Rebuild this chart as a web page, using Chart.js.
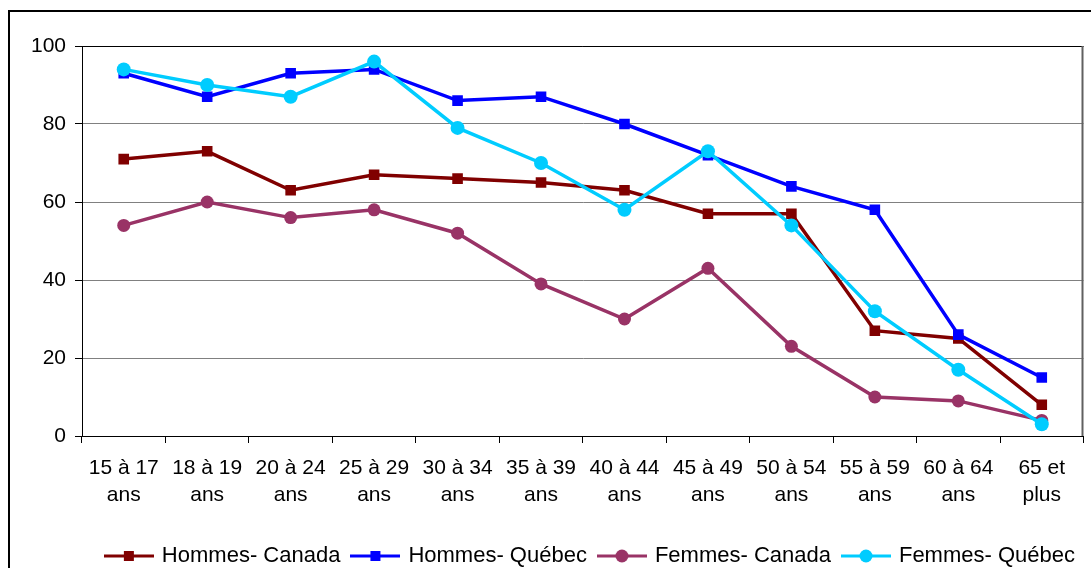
<!DOCTYPE html>
<html lang="fr">
<head>
<meta charset="utf-8">
<script src="https://cdn.jsdelivr.net/npm/chart.js@4/dist/chart.umd.min.js"></script>
<style>
  html, body { margin: 0; padding: 0; background: #ffffff; }
  #wrap { width: 1091px; height: 568px; position: relative; }
</style>
</head>
<body>
<div id="wrap"><canvas id="chart" width="1091" height="568"></canvas></div>
<script>
// values
const ageGroups = [
  ["15 à 17", "ans"], ["18 à 19", "ans"], ["20 à 24", "ans"], ["25 à 29", "ans"],
  ["30 à 34", "ans"], ["35 à 39", "ans"], ["40 à 44", "ans"], ["45 à 49", "ans"],
  ["50 à 54", "ans"], ["55 à 59", "ans"], ["60 à 64", "ans"], ["65 et", "plus"]
];
const hommesCanada = [71, 73, 63, 67, 66, 65, 63, 57, 57, 27, 25, 8];
const hommesQuebec = [93, 87, 93, 94, 86, 87, 80, 72, 64, 58, 26, 15];
const femmesCanada = [54, 60, 56, 58, 52, 39, 30, 43, 23, 10, 9, 4];
const femmesQuebec = [94, 90, 87, 96, 79, 70, 58, 73, 54, 32, 17, 3];
const yTickValues = [0, 20, 40, 60, 80, 100];

const seriesNames = ["Hommes- Canada", "Hommes- Québec", "Femmes- Canada", "Femmes- Québec"];
const seriesColors = ["#800000", "#0000ff", "#993366", "#00ccff"];
const seriesMarkers = ["rect", "rect", "circle", "circle"];
const markerRadius = [7.5, 7.5, 6.5, 7];
const drawOrder = [4, 3, 2, 1];

const FONT = "'Liberation Sans', Arial, sans-serif";

// little line + marker pictures for the legend
function makeLegendIcon(color, marker) {
  const c = document.createElement("canvas");
  c.width = 50;
  c.height = 14;
  const g = c.getContext("2d");
  g.strokeStyle = color;
  g.lineWidth = 3;
  g.beginPath();
  g.moveTo(0, 7);
  g.lineTo(50, 7);
  g.stroke();
  g.fillStyle = color;
  if (marker === "rect") {
    g.fillRect(20, 2, 10, 10);
  } else {
    g.beginPath();
    g.arc(25, 7, 6.5, 0, Math.PI * 2);
    g.fill();
  }
  return c;
}
const legendIcons = seriesColors.map((c, i) => makeLegendIcon(c, seriesMarkers[i]));

const allSeries = [hommesCanada, hommesQuebec, femmesCanada, femmesQuebec];

const frame = {
  id: "frame",
  beforeDraw(chart) {
    const ctx = chart.ctx;
    ctx.save();
    ctx.fillStyle = "#ffffff";
    ctx.fillRect(0, 0, chart.width, chart.height);
    ctx.strokeStyle = "#000000";
    ctx.lineWidth = 2;
    ctx.strokeRect(9, 11, 1200, 700);
    ctx.restore();
  },
  beforeDatasetsDraw(chart) {
    const a = chart.chartArea;
    const ctx = chart.ctx;
    ctx.save();
    ctx.lineWidth = 1;
    ctx.strokeStyle = "#000000";
    ctx.beginPath();
    ctx.moveTo(a.left, a.top + 0.5);
    ctx.lineTo(a.right, a.top + 0.5);
    ctx.stroke();
    ctx.strokeStyle = "#606060";
    ctx.lineWidth = 2;
    ctx.beginPath();
    ctx.moveTo(a.right - 1, a.top);
    ctx.lineTo(a.right - 1, a.bottom);
    ctx.stroke();
    ctx.restore();
  }
};

new Chart(document.getElementById("chart"), {
  type: "line",
  data: {
    labels: ageGroups,
    datasets: allSeries.map((values, i) => ({
      label: seriesNames[i],
      data: values,
      borderColor: seriesColors[i],
      backgroundColor: seriesColors[i],
      borderWidth: 3.5,
      pointStyle: seriesMarkers[i],
      pointRadius: markerRadius[i],
      pointBorderWidth: 0,
      pointBackgroundColor: seriesColors[i],
      tension: 0,
      fill: false,
      order: drawOrder[i]
    }))
  },
  options: {
    responsive: false,
    animation: false,
    layout: { padding: { left: 0, right: 3, top: 46, bottom: -9 } },
    scales: {
      x: {
        offset: true,
        grid: {
          offset: true,
          drawOnChartArea: false,
          drawTicks: true,
          tickLength: 7,
          tickColor: "#000000"
        },
        border: { display: true, color: "#000000", width: 1 },
        ticks: {
          color: "#000000",
          padding: 12,
          maxRotation: 0,
          autoSkip: false,
          font: { family: FONT, size: 21, lineHeight: 1.29 }
        },
        afterFit(scale) { scale.height = 96; }
      },
      y: {
        min: 0,
        max: 100,
        afterBuildTicks(scale) { scale.ticks = yTickValues.map((v) => ({ value: v })); },
        grid: {
          color: "#808080",
          lineWidth: 1,
          drawTicks: true,
          tickLength: 7,
          tickColor: "#000000"
        },
        border: { display: true, color: "#000000", width: 1 },
        ticks: {
          color: "#000000",
          padding: 9,
          font: { family: FONT, size: 21 }
        },
        afterFit(scale) { scale.width = 82; }
      }
    },
    plugins: {
      tooltip: { enabled: false },
      legend: {
        position: "bottom",
        align: "end",
        labels: {
          color: "#000000",
          font: { family: FONT, size: 22 },
          padding: 13,
          usePointStyle: true,
          pointStyleWidth: 44,
          sort: (a, b) => a.datasetIndex - b.datasetIndex,
          generateLabels(chart) {
            const items = Chart.defaults.plugins.legend.labels.generateLabels(chart);
            items.forEach((item) => {
              item.pointStyle = legendIcons[item.datasetIndex];
            });
            return items;
          }
        }
      }
    }
  },
  plugins: [frame]
});
</script>
</body>
</html>
